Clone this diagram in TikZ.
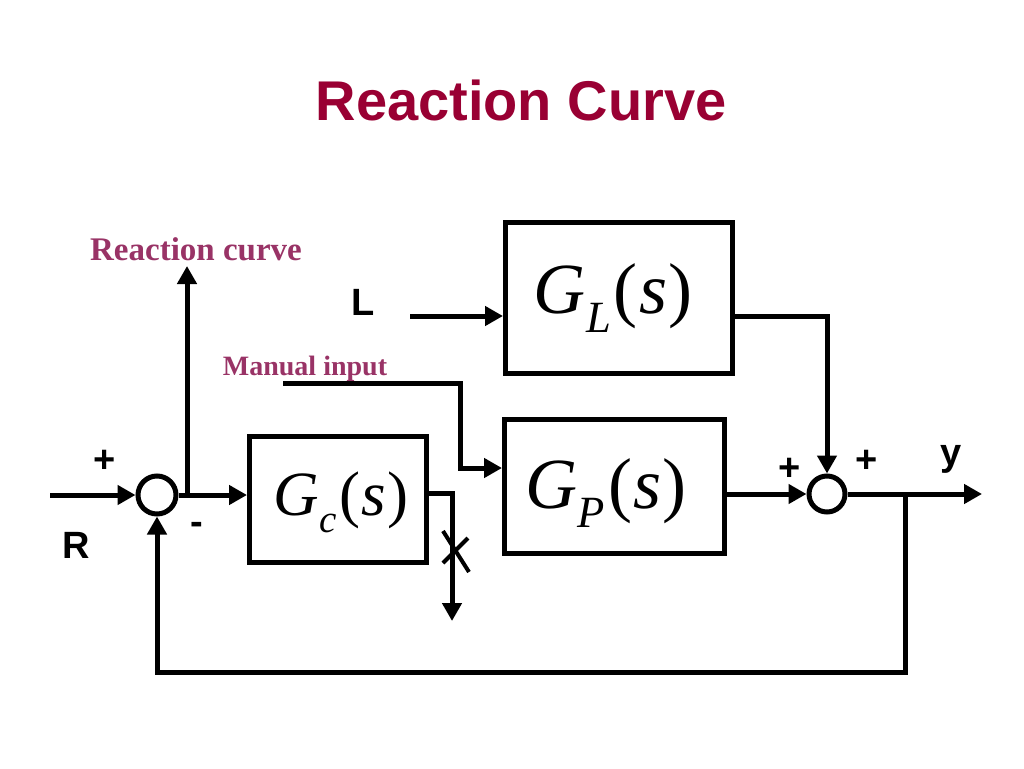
\documentclass[tikz,border=0pt]{standalone}
\usepackage{fontspec}
\setmainfont{Liberation Serif}
\setsansfont{Liberation Sans}
\usetikzlibrary{arrows.meta}
\definecolor{titlered}{RGB}{153,0,51}
\definecolor{labelred}{RGB}{153,51,102}
\newcommand\tfn[1]{\textit{G}\kern0.01em\raisebox{-0.27em}{\scalebox{0.62}{\textit{#1}}}\kern0.04em(\kern0.02em\textit{s}\kern0.02em)}
\begin{document}
\begin{tikzpicture}[x=1pt,y=-1pt,line width=5pt,
  arr/.style={-{Triangle[length=18pt,width=19pt]}},
  blk/.style={draw,line width=5pt,inner sep=0pt},
  sumj/.style={draw,circle,line width=5pt,minimum size=38pt,inner sep=0pt},
  sans/.style={font=\sffamily\bfseries\fontsize{38}{40}\selectfont},
  lbl/.style={font=\rmfamily\bfseries\fontsize{#1}{#1}\selectfont,text=labelred}]
\fill[white] (0,0) rectangle (1024,768);
\useasboundingbox (0,0) rectangle (1024,768);
% title
\node[anchor=base,font=\sffamily\bfseries\fontsize{56}{60}\selectfont,text=titlered] (title) at (521,120) {Reaction Curve};
% blocks
\node[blk,minimum width=177pt,minimum height=126pt] (gc) at (338,499) {};
\node[blk,minimum width=227pt,minimum height=151pt] (gl) at (619,298) {};
\node[blk,minimum width=220pt,minimum height=134pt] (gp) at (614.5,486) {};
\node[anchor=base,font=\rmfamily\fontsize{63}{63}\selectfont] (gct) at (341,515) {\tfn{c}};
\node[anchor=base,font=\rmfamily\fontsize{72}{72}\selectfont] (glt) at (613,313) {\tfn{L}};
\node[anchor=base,font=\rmfamily\fontsize{72}{72}\selectfont] (gpt) at (606,508) {\tfn{P}};
% summing junctions
\node[sumj] (sum1) at (157,495) {};
\node[sumj,minimum size=36pt] (sum2) at (827,494) {};
% labels
\node[anchor=base,lbl=33] (rc) at (196,260) {Reaction curve};
\node[anchor=base,lbl=28] (mi) at (305,375) {Manual input};
\node[anchor=base,sans] (L) at (363,315) {L};
\node[anchor=base,sans] (R) at (76,558) {R};
\node[anchor=base,sans] (y) at (951,465) {y};
\node[sans] (p1) at (105,461) {+};
\node[anchor=base,sans] (m1) at (197,534) {-};
\node[sans] (p2) at (790,469) {+};
\node[sans] (p3) at (867,461) {+};
% coordinates
\coordinate (rin) at (50,495);
\coordinate (j1) at (187,495);
\coordinate (rctop) at (187,266);
\coordinate (gco) at (452,493);
\coordinate (gcd) at (452,621);
\coordinate (mi0) at (283,383);
\coordinate (mi1) at (460,383);
\coordinate (mi2) at (460,468);
\coordinate (lin) at (410,316);
\coordinate (glc) at (827,316);
\coordinate (yout) at (982,494);
\coordinate (fb1) at (905,494);
\coordinate (fb2) at (905,672);
\coordinate (x1a) at (443,531);
\coordinate (x1b) at (469,572);
\coordinate (x2a) at (468,538);
\coordinate (x2b) at (443,563);
% connectors
\draw[arr] (rin) -- (sum1.west);
\draw[arr] (j1) -- (rctop);
\draw[arr] (sum1.east) -- (sum1.east -| gc.west);
\draw[arr] (gc.east |- gco) -- (gco) -- (gcd);
\draw[line width=4pt] (x1a) -- (x1b);
\draw[line width=4pt] (x2a) -- (x2b);
\draw[arr] (mi0) -- (mi1) -- (mi2) -- (mi2 -| gp.west);
\draw[arr] (lin) -- (lin -| gl.west);
\draw[arr] (gl.east |- glc) -- (glc) -- (sum2.north);
\draw[arr] (gp.east |- sum2) -- (sum2.west);
\draw[arr] (sum2.east) -- (yout);
\draw[arr] (fb1) -- (fb2) -- (fb2 -| sum1.south) -- (sum1.south);
\end{tikzpicture}
\end{document}
